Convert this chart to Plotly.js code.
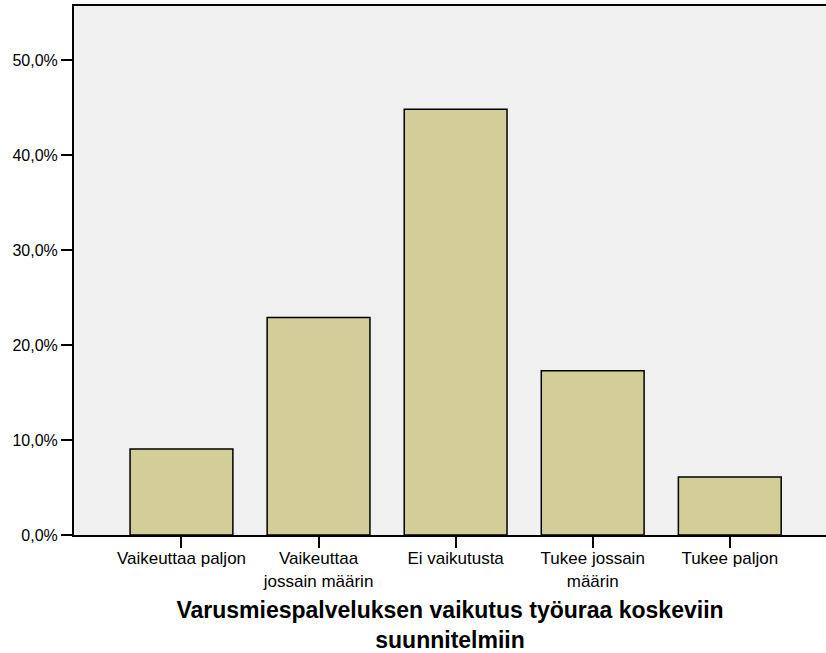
<!DOCTYPE html>
<html>
<head>
<meta charset="utf-8">
<script src="https://cdn.plot.ly/plotly-3.0.1.min.js"></script>
<style>html,body{margin:0;padding:0;background:#fff;}#chart{width:826px;height:653px;}</style>
</head>
<body>
<div id="chart"></div>
<script>
const categories = ["Vaikeuttaa paljon", "Vaikeuttaa<br>jossain määrin", "Ei vaikutusta", "Tukee jossain<br>määrin", "Tukee paljon"];
const percentValues = [9.05, 22.9, 44.8, 17.3, 6.1];
const yTickValues = [0, 10, 20, 30, 40, 50];
const yTickLabels = ["0,0%", "10,0%", "20,0%", "30,0%", "40,0%", "50,0%"];
const xTitle = "Varusmiespalveluksen vaikutus työuraa koskeviin<br>suunnitelmiin";

const trace = {
  type: "bar",
  x: [0, 1, 2, 3, 4],
  y: percentValues,
  width: 0.75,
  marker: { color: "#d3ce98", line: { color: "#000", width: 1.5 } },
  hoverinfo: "skip"
};

const layout = {
  width: 826, height: 653,
  margin: { l: 74, r: 0, t: 6, b: 118 },
  paper_bgcolor: "#ffffff",
  plot_bgcolor: "#f0f0f0",
  font: { family: "Liberation Sans, Arial, sans-serif", color: "#000", size: 16 },
  showlegend: false,
  xaxis: {
    range: [-0.784, 4.702],
    tickvals: [0, 1, 2, 3, 4],
    ticktext: categories,
    ticks: "outside", ticklen: 11, tickwidth: 2, tickcolor: "#000",
    ticklabelstandoff: -4,
    showline: true, linecolor: "#000", linewidth: 2, mirror: true,
    showgrid: false, zeroline: false,
    tickfont: { size: 17, color: "#000" },
    title: { text: xTitle, font: { size: 23, color: "#000", family: "Liberation Sans, Arial, sans-serif", weight: "bold" }, standoff: 17 },
    automargin: false
  },
  yaxis: {
    range: [0, 55.68],
    tickvals: yTickValues,
    ticktext: yTickLabels,
    ticks: "outside", ticklen: 11, tickwidth: 2, tickcolor: "#000",
    showline: true, linecolor: "#000", linewidth: 2,
    showgrid: false, zeroline: false,
    tickfont: { size: 16, color: "#000" },
    automargin: false
  }
};

Plotly.newPlot("chart", [trace], layout, { staticPlot: true, displayModeBar: false });
</script>
</body>
</html>
